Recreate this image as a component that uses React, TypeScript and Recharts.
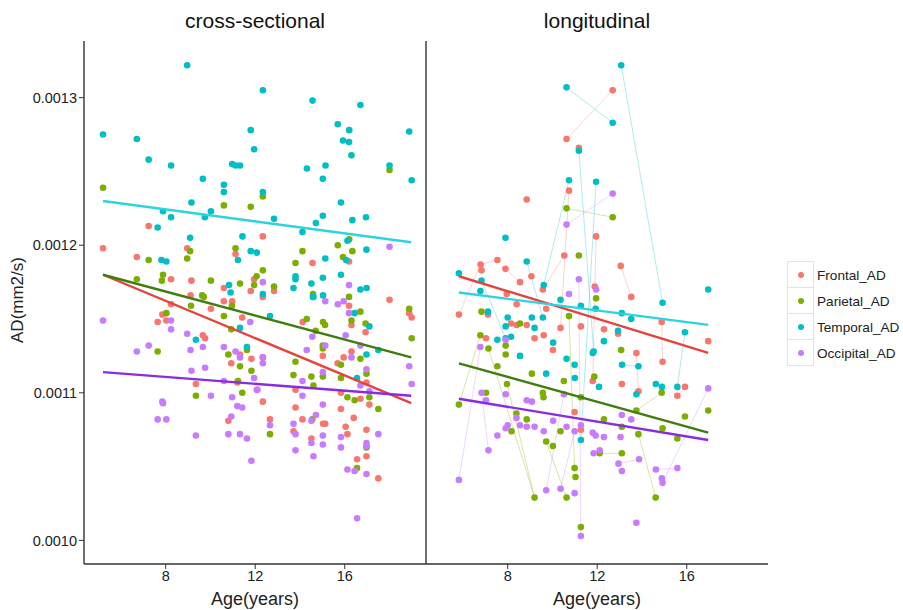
import React from "react"
import { ScatterChart, Scatter, XAxis, YAxis } from "recharts"

// AD values are written in 1e-6 mm2/s, ages in years
type Pt = [number, number]

const seriesNames = ["Frontal_AD", "Parietal_AD", "Temporal_AD", "Occipital_AD"]
const pointColors = ["#F8766D", "#7CAE00", "#00BFC4", "#C77CFF"]
const fitColors = ["#E3453D", "#3E7E0C", "#2FD3E0", "#8A2BE0"]

const ageTicks = [8, 12, 16]
const adTicks = [0.001, 0.0011, 0.0012, 0.0013]

const crossFrontal: Pt[] = [
  [7.24, 1213], [5.2, 1198], [6.71, 1192], [8.96, 1198], [11.12, 1194], [8.24, 1177], [9.15, 1176],
  [10.6, 1171], [11.8, 1169], [11.95, 1177], [12.34, 1206], [14.56, 1188], [16.19, 1189], [12.84, 1169],
  [12.34, 1165], [18.0, 1163], [7.85, 1153], [7.64, 1148], [8.03, 1149], [8.24, 1160], [9.66, 1139],
  [9.76, 1137], [10.02, 1157], [10.6, 1162], [10.97, 1162], [11.42, 1151], [10.93, 1120], [11.32, 1126],
  [11.83, 1123], [9.35, 1106], [10.8, 1081], [11.2, 1107], [9.11, 1166], [16.19, 1159], [18.88, 1154],
  [18.99, 1151], [14.12, 1148], [16.3, 1146], [16.93, 1141], [15.02, 1125], [16.3, 1128], [15.95, 1124],
  [15.68, 1120], [12.34, 1124], [16.97, 1107], [13.8, 1102], [15.83, 1100], [16.7, 1096], [12.34, 1094],
  [17.1, 1092], [13.8, 1090], [12.66, 1082], [14.11, 1082], [15.03, 1079], [15.13, 1079], [15.83, 1089],
  [16.4, 1083], [13.71, 1074], [16.04, 1077], [16.12, 1072], [14.51, 1069], [16.97, 1075], [16.97, 1057],
  [16.55, 1055], [17.5, 1042],
]

const crossParietal: Pt[] = [
  [5.2, 1239], [10.6, 1227], [11.8, 1226], [11.12, 1198], [9.09, 1196], [8.96, 1191], [7.24, 1190],
  [7.88, 1180], [6.71, 1177], [7.83, 1176], [10.02, 1176], [11.32, 1174], [11.95, 1173], [9.63, 1166],
  [12.34, 1233], [18.0, 1251], [15.69, 1200], [14.11, 1196], [16.34, 1196], [15.92, 1192], [16.2, 1204],
  [13.8, 1188], [12.34, 1183], [12.06, 1179], [12.84, 1172], [14.58, 1167], [16.19, 1165], [8.03, 1154],
  [9.13, 1159], [9.7, 1165], [10.6, 1152], [10.96, 1159], [10.93, 1143], [7.64, 1128], [10.8, 1126],
  [11.63, 1129], [11.32, 1118], [11.83, 1115], [11.23, 1108], [9.35, 1098], [11.42, 1100], [14.3, 1150],
  [15.03, 1148], [15.12, 1146], [14.7, 1142], [16.3, 1149], [16.7, 1155], [16.93, 1147], [18.88, 1157],
  [18.99, 1137], [15.02, 1132], [15.02, 1130], [13.8, 1121], [16.7, 1123], [15.83, 1119], [13.71, 1112],
  [14.51, 1111], [15.02, 1111], [15.83, 1110], [16.97, 1113], [14.6, 1105], [16.12, 1097], [16.44, 1095],
  [17.1, 1097], [17.5, 1089], [12.66, 1072], [14.55, 1082], [16.97, 1063], [16.55, 1049],
]

const crossTemporal: Pt[] = [
  [8.96, 1322], [5.2, 1275], [6.71, 1272], [7.24, 1258], [8.24, 1254], [11.8, 1278], [11.95, 1265],
  [10.97, 1255], [11.12, 1254], [11.32, 1254], [9.66, 1245], [10.6, 1241], [10.6, 1236], [9.15, 1229],
  [7.88, 1223], [8.24, 1219], [10.02, 1223], [9.75, 1219], [7.64, 1212], [9.09, 1205], [11.43, 1206],
  [11.8, 1196], [12.07, 1195], [11.23, 1190], [7.81, 1190], [8.03, 1189], [10.83, 1173], [10.9, 1168],
  [12.34, 1305], [14.56, 1298], [16.7, 1295], [15.69, 1282], [16.2, 1278], [15.92, 1271], [16.19, 1270],
  [16.3, 1261], [18.88, 1277], [14.31, 1252], [15.14, 1254], [15.02, 1245], [18.0, 1254], [18.99, 1244],
  [12.34, 1236], [15.83, 1229], [15.02, 1220], [14.71, 1215], [16.34, 1217], [16.95, 1219], [12.84, 1218],
  [14.11, 1209], [16.12, 1203], [16.97, 1197], [15.13, 1191], [16.06, 1190], [13.8, 1179], [13.8, 1177],
  [15.02, 1178], [15.83, 1180], [14.51, 1174], [13.71, 1171], [16.7, 1170], [16.98, 1171], [14.58, 1165],
  [15.03, 1166], [11.32, 1144], [9.35, 1136], [11.63, 1131], [12.34, 1167], [14.6, 1165], [12.66, 1152],
  [16.44, 1154], [17.1, 1145], [16.97, 1126], [17.5, 1129], [16.55, 1110],
]

const crossOccipital: Pt[] = [
  [18.0, 1199], [12.34, 1175], [16.19, 1173], [5.2, 1149], [6.71, 1128], [7.24, 1132], [8.24, 1149],
  [8.24, 1143], [8.96, 1140], [9.11, 1129], [9.66, 1131], [9.15, 1115], [9.76, 1117], [7.85, 1094],
  [7.88, 1093], [7.64, 1082], [8.03, 1082], [9.35, 1071], [10.02, 1098], [10.6, 1131], [11.12, 1128],
  [11.32, 1124], [10.97, 1097], [11.2, 1091], [11.42, 1090], [10.93, 1084], [10.8, 1072], [11.32, 1072],
  [11.63, 1069], [11.83, 1054], [11.78, 1148], [11.95, 1110], [12.07, 1102], [10.6, 1108], [15.13, 1162],
  [15.69, 1160], [15.95, 1162], [16.19, 1154], [14.55, 1138], [16.04, 1139], [15.13, 1132], [14.3, 1129],
  [12.34, 1124], [12.34, 1120], [16.3, 1124], [16.7, 1132], [16.97, 1116], [18.88, 1118], [18.99, 1106],
  [12.1, 1102], [14.11, 1108], [14.11, 1098], [15.02, 1114], [16.7, 1105], [17.1, 1101], [15.02, 1092],
  [14.71, 1085], [14.51, 1081], [13.71, 1079], [12.66, 1078], [13.8, 1072], [15.02, 1071], [15.02, 1065],
  [14.51, 1066], [15.83, 1070], [15.83, 1063], [13.8, 1061], [14.6, 1057], [16.97, 1066], [16.97, 1064],
  [17.5, 1072], [16.12, 1048], [16.44, 1047], [16.97, 1045], [16.55, 1015],
]

const longFrontal: Pt[] = [
  [12.69, 1305], [10.63, 1272], [11.18, 1266], [10.74, 1237], [8.85, 1231], [11.95, 1206], [10.53, 1193],
  [13.05, 1186], [6.79, 1187], [6.83, 1183], [7.54, 1190], [7.9, 1184], [9.06, 1179], [8.55, 1175],
  [9.57, 1170], [11.89, 1172], [13.52, 1165], [8.4, 1160], [7.96, 1167], [9.72, 1157], [5.82, 1153],
  [7.12, 1153], [8.15, 1147], [8.4, 1146], [8.85, 1146], [7.03, 1137], [9.2, 1137], [9.61, 1139],
  [10.36, 1144], [11.27, 1145], [10.02, 1129], [11.8, 1108], [10.99, 1087], [11.27, 1075], [12.3, 1143],
  [12.93, 1140], [13.75, 1127], [13.1, 1106], [13.84, 1101], [14.92, 1121], [14.88, 1148], [15.58, 1098],
  [15.92, 1104], [16.96, 1135],
]

const longParietal: Pt[] = [
  [10.63, 1225], [12.69, 1219], [11.18, 1193], [11.95, 1164], [6.83, 1155], [8.55, 1147], [10.74, 1152],
  [6.78, 1139], [7.14, 1130], [7.91, 1132], [7.91, 1126], [7.54, 1118], [7.97, 1106], [9.08, 1113],
  [10.51, 1108], [11.87, 1111], [13.07, 1129], [5.82, 1092], [7.03, 1100], [9.57, 1100], [9.6, 1097],
  [8.39, 1086], [8.85, 1082], [8.17, 1074], [10.36, 1074], [9.72, 1067], [10.02, 1064], [11.27, 1097],
  [12.3, 1082], [13.75, 1088], [13.1, 1077], [13.84, 1072], [12.11, 1059], [13.1, 1059], [14.88, 1100],
  [14.92, 1076], [15.58, 1069], [15.92, 1084], [16.96, 1088], [10.99, 1049], [11.03, 1043], [9.2, 1029],
  [10.63, 1029], [14.61, 1029], [11.27, 1009],
]

const longTemporal: Pt[] = [
  [13.07, 1322], [10.63, 1307], [12.69, 1283], [11.18, 1264], [10.74, 1244], [11.95, 1243], [7.9, 1205],
  [8.85, 1189], [5.82, 1181], [6.83, 1176], [6.78, 1169], [9.61, 1173], [10.36, 1163], [14.92, 1161],
  [16.96, 1170], [11.27, 1159], [11.93, 1157], [7.12, 1155], [8.0, 1151], [7.91, 1145], [8.15, 1138],
  [7.91, 1137], [7.54, 1136], [9.08, 1151], [9.57, 1151], [9.2, 1144], [8.55, 1125], [10.03, 1134],
  [10.63, 1123], [10.99, 1119], [11.0, 1110], [9.72, 1113], [11.8, 1127], [11.84, 1128], [12.3, 1135],
  [12.08, 1104], [12.93, 1142], [13.1, 1154], [13.52, 1150], [13.11, 1119], [13.84, 1118], [13.75, 1099],
  [14.62, 1106], [14.89, 1104], [15.58, 1104], [15.92, 1141], [11.27, 1068],
]

const longOccipital: Pt[] = [
  [12.69, 1235], [10.63, 1214], [11.18, 1177], [10.74, 1167], [11.95, 1170], [6.78, 1131], [7.91, 1136],
  [5.82, 1041], [7.14, 1061], [6.83, 1100], [7.03, 1095], [7.91, 1099], [8.85, 1095], [9.08, 1094],
  [8.39, 1083], [8.0, 1078], [7.91, 1076], [7.54, 1071], [8.55, 1078], [8.85, 1077], [9.2, 1077],
  [9.61, 1074], [10.03, 1081], [10.51, 1099], [10.63, 1077], [10.99, 1074], [11.27, 1078], [11.8, 1073],
  [11.93, 1071], [12.3, 1070], [13.1, 1085], [13.52, 1082], [13.04, 1070], [11.84, 1059], [12.11, 1061],
  [12.95, 1052], [13.1, 1047], [13.87, 1055], [14.62, 1048], [14.89, 1042], [14.92, 1039], [15.58, 1049],
  [16.96, 1103], [9.72, 1034], [10.36, 1035], [10.99, 1032], [11.27, 1003], [13.75, 1012],
]

// fitted lines, start and end
const crossFits: Pt[][] = [
  [[5.2, 1180], [18.97, 1093]],
  [[5.2, 1180], [18.97, 1124]],
  [[5.2, 1230], [18.97, 1202]],
  [[5.2, 1114], [18.97, 1098]],
]
const longFits: Pt[][] = [
  [[5.82, 1179], [16.96, 1127]],
  [[5.82, 1120], [16.96, 1073]],
  [[5.82, 1168], [16.96, 1146]],
  [[5.82, 1096], [16.96, 1068]],
]

// repeated scans of the same subject (longitudinal)
const frontalPairs: Pt[][] = [
  [[10.63, 1272], [12.69, 1305]], [[10.53, 1193], [9.57, 1170]], [[6.79, 1187], [7.54, 1190]],
  [[7.9, 1184], [8.55, 1175]], [[13.05, 1186], [13.52, 1165]], [[14.88, 1148], [14.92, 1121]],
  [[13.75, 1127], [13.84, 1101]], [[5.82, 1153], [6.79, 1187]], [[15.58, 1098], [15.92, 1104]],
  [[10.74, 1237], [10.36, 1144]], [[11.95, 1206], [11.8, 1108]],
]
const parietalPairs: Pt[][] = [
  [[10.63, 1225], [12.69, 1219]], [[5.82, 1092], [6.78, 1139]], [[7.14, 1130], [9.2, 1029]],
  [[12.11, 1059], [13.1, 1059]], [[13.84, 1072], [14.61, 1029]], [[9.72, 1067], [10.63, 1029]],
  [[13.75, 1088], [14.88, 1100]], [[7.97, 1106], [9.2, 1029]], [[10.74, 1152], [10.99, 1049]],
]
const temporalPairs: Pt[][] = [
  [[13.07, 1322], [14.92, 1161]], [[10.63, 1307], [12.69, 1283]], [[10.74, 1244], [9.61, 1173]],
  [[6.83, 1176], [7.91, 1137]], [[15.92, 1141], [15.58, 1104]], [[13.11, 1119], [13.84, 1118]],
  [[8.85, 1189], [9.57, 1151]], [[11.95, 1243], [11.27, 1068]], [[11.18, 1264], [11.84, 1128]],
]
const occipitalPairs: Pt[][] = [
  [[10.63, 1214], [12.69, 1235]], [[5.82, 1041], [6.78, 1131]], [[9.72, 1034], [10.51, 1099]],
  [[11.84, 1059], [12.11, 1061]], [[12.95, 1052], [13.87, 1055]], [[14.62, 1048], [15.58, 1049]],
  [[10.36, 1035], [10.99, 1074]], [[7.14, 1061], [6.83, 1100]], [[14.92, 1039], [16.96, 1103]],
  [[11.27, 1003], [11.18, 1177]],
]

const crossPoints = [crossFrontal, crossParietal, crossTemporal, crossOccipital]
const longPoints = [longFrontal, longParietal, longTemporal, longOccipital]
const longPairs = [frontalPairs, parietalPairs, temporalPairs, occipitalPairs]

const toRows = (pts: Pt[]) => pts.map(([age, ad]) => ({ age, ad: ad / 1e6 }))

const font = "'Liberation Sans', Arial, sans-serif"
const ageDomain = [4.35, 19.63]
const adDomain = [0.000984, 0.0013384]

const dot = (color: string) => (p: any) => (
  <circle cx={p.cx} cy={p.cy} r={3.3} fill={color} />
)
const noDot = () => <g />

function Panel({ points, fits, pairs, left, width, yWidth, marginRight, showTicks }: any) {
  const tickStyle = { fill: "#222", fontSize: 14.5, fontFamily: font }
  return (
    <div style={{ position: "absolute", left, top: 0 }}>
      <ScatterChart
        width={width}
        height={610}
        margin={{ top: 41, right: marginRight, bottom: 0, left: 0 }}
      >
        <XAxis
          type="number"
          dataKey="age"
          domain={ageDomain}
          ticks={ageTicks}
          allowDataOverflow
          height={46}
          axisLine={{ stroke: "#333", strokeWidth: 1.4 }}
          tickLine={{ stroke: "#333" }}
          tickSize={5}
          tick={tickStyle}
        />
        <YAxis
          type="number"
          dataKey="ad"
          domain={adDomain}
          ticks={adTicks}
          allowDataOverflow
          width={yWidth}
          axisLine={{ stroke: "#333", strokeWidth: 1.4 }}
          tickLine={{ stroke: "#333" }}
          tickSize={5}
          tick={showTicks ? tickStyle : false}
          tickFormatter={(v: number) => v.toFixed(4)}
        />
        {pairs &&
          pairs.map((group: Pt[][], i: number) =>
            group.map((pr, j) => (
              <Scatter
                key={`pair-${i}-${j}`}
                data={toRows(pr)}
                line={{ stroke: pointColors[i], strokeWidth: 0.8, strokeOpacity: 0.4 }}
                shape={noDot}
                isAnimationActive={false}
              />
            ))
          )}
        {points.map((pts: Pt[], i: number) => (
          <Scatter
            key={`pts-${i}`}
            data={toRows(pts)}
            shape={dot(pointColors[i])}
            isAnimationActive={false}
          />
        ))}
        {fits.map((f: Pt[], i: number) => (
          <Scatter
            key={`fit-${i}`}
            data={toRows(f)}
            line={{ stroke: fitColors[i], strokeWidth: 2.4 }}
            shape={noDot}
            isAnimationActive={false}
          />
        ))}
      </ScatterChart>
    </div>
  )
}

export default function App() {
  const text = { position: "absolute" as const, fontFamily: font, color: "#111", whiteSpace: "nowrap" as const }
  return (
    <div style={{ position: "absolute", left: 0, top: 0, width: 903, height: 610, background: "#fff", overflow: "hidden" }}>
      <Panel points={crossPoints} fits={crossFits} left={0} width={430} yWidth={84} marginRight={4} showTicks />
      <Panel points={longPoints} fits={longFits} pairs={longPairs} left={376} width={400} yWidth={50} marginRight={8} showTicks={false} />

      <div style={{ ...text, left: 255, top: 9, fontSize: 21, transform: "translateX(-50%)" }}>cross-sectional</div>
      <div style={{ ...text, left: 597, top: 9, fontSize: 21, transform: "translateX(-50%)" }}>longitudinal</div>
      <div style={{ ...text, left: 255, top: 589, fontSize: 18, color: "#222", transform: "translateX(-50%)" }}>Age(years)</div>
      <div style={{ ...text, left: 597, top: 589, fontSize: 18, color: "#222", transform: "translateX(-50%)" }}>Age(years)</div>
      <div style={{ ...text, left: 18, top: 300, fontSize: 17, color: "#222", transform: "translate(-50%, -50%) rotate(-90deg)" }}>AD(mm2/s)</div>

      <div style={{ position: "absolute", left: 787, top: 262 }}>
        {seriesNames.map((name, i) => (
          <div key={name} style={{ display: "flex", alignItems: "center", height: 26 }}>
            <div style={{ width: 25, height: 25, border: "1px solid #e3e3e3", marginTop: -1, display: "flex", alignItems: "center", justifyContent: "center" }}>
              <div style={{ width: 6, height: 6, borderRadius: 3, background: pointColors[i] }} />
            </div>
            <span style={{ fontFamily: font, fontSize: 13.6, color: "#222", marginLeft: 3, whiteSpace: "nowrap" }}>{name}</span>
          </div>
        ))}
      </div>
    </div>
  )
}
